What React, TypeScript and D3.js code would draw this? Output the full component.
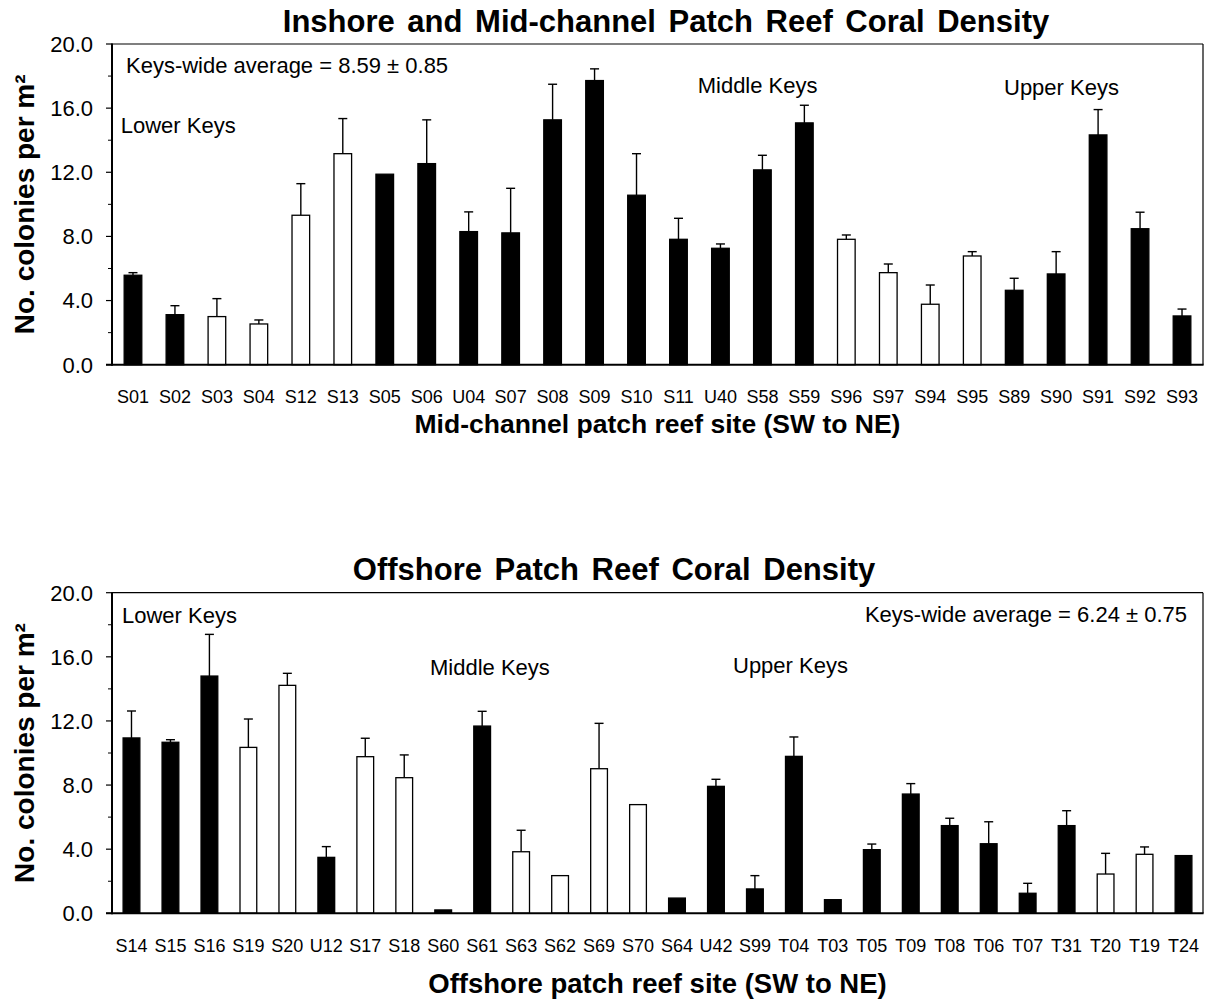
import React from 'react';
import * as d3 from 'd3';

// ---------- Data: inshore / mid-channel panel ----------
const midSites = ['S01','S02','S03','S04','S12','S13','S05','S06','U04','S07','S08','S09','S10','S11','U40','S58','S59','S96','S97','S94','S95','S89','S90','S91','S92','S93'];
const midValues = [5.58,3.12,3.0,2.54,9.32,13.16,11.88,12.54,8.3,8.22,15.27,17.72,10.57,7.82,7.26,12.15,15.08,7.82,5.74,3.77,6.78,4.64,5.66,14.33,8.48,3.04];
const midErrors = [0.16,0.56,1.12,0.25,1.97,2.19,0,2.73,1.23,2.78,2.22,0.73,2.59,1.31,0.27,0.91,1.1,0.27,0.54,1.2,0.27,0.75,1.39,1.58,1.03,0.43];
const midFilled = [true,true,false,false,false,false,true,true,true,true,true,true,true,true,true,true,true,false,false,false,false,true,true,true,true,true];

// ---------- Data: offshore panel ----------
const offSites = ['S14','S15','S16','S19','S20','U12','S17','S18','S60','S61','S63','S62','S69','S70','S64','U42','S99','T04','T03','T05','T09','T08','T06','T07','T31','T20','T19','T24'];
const offValues = [10.94,10.67,14.8,10.35,14.22,3.49,9.77,8.46,0.21,11.68,3.84,2.35,9.02,6.78,0.95,7.92,1.52,9.79,0.85,3.97,7.44,5.47,4.34,1.25,5.47,2.45,3.68,3.6];
const offErrors = [1.68,0.16,2.6,1.77,0.75,0.67,1.15,1.42,0,0.92,1.34,0,2.83,0,0,0.44,0.83,1.21,0,0.35,0.65,0.46,1.37,0.62,0.93,1.29,0.46,0];
const offFilled = [true,true,true,false,false,true,false,false,true,true,false,false,false,false,true,true,true,true,true,true,true,true,true,true,true,false,false,true];

const yTickValues = [0, 4, 8, 12, 16, 20];
const yMinorValues = [2, 6, 10, 14, 18];

const midTitle = 'Inshore and Mid-channel Patch Reef Coral Density';
const offTitle = 'Offshore Patch Reef Coral Density';
const midXTitle = 'Mid-channel patch reef site (SW to NE)';
const offXTitle = 'Offshore patch reef site (SW to NE)';
const yTitle = 'No. colonies per m²';

const FONT = '"Liberation Sans", Arial, Helvetica, sans-serif';

type Note = { text: string; x: number; y: number; anchor?: string };

type PanelProps = {
  sites: string[]; values: number[]; errors: number[]; filled: boolean[];
  top: number; bottom: number; pad: number;
  title: string; titleX: number; titleY: number;
  xTitle: string; xTitleY: number; xTitleSize: number; tickY: number;
  notes: Note[];
};

function Panel(p: PanelProps) {
  const left = 112, right = 1203;
  const x = d3.scaleBand<string>().domain(p.sites).range([left, right]).paddingInner(p.pad).paddingOuter(p.pad / 2);
  const y = d3.scaleLinear().domain([0, 20]).range([p.bottom, p.top]);
  const bw = x.bandwidth();
  const capW = 9;
  return (
    <g>
      <text x={p.titleX} y={p.titleY} textAnchor="middle" fontFamily={FONT} fontWeight="bold" fontSize={31} style={{ wordSpacing: '4px' }}>{p.title}</text>
      {/* frame */}
      <line x1={left} x2={right} y1={p.top} y2={p.top} stroke="#000" strokeWidth={1.2} />
      <line x1={right} x2={right} y1={p.top} y2={p.bottom} stroke="#000" strokeWidth={1.2} />
      {/* bars */}
      {p.sites.map((s, i) => {
        const v = p.values[i];
        const e = p.errors[i];
        const cx = (x(s) as number) + bw / 2;
        return (
          <g key={s}>
            {e > 0 && (
              <g stroke="#000" strokeWidth={1.4}>
                <line x1={cx} x2={cx} y1={y(v)} y2={y(v + e)} />
                <line x1={cx - capW / 2} x2={cx + capW / 2} y1={y(v + e)} y2={y(v + e)} />
              </g>
            )}
            <rect x={x(s)} y={y(v)} width={bw} height={p.bottom - y(v)}
              fill={p.filled[i] ? '#000' : '#fff'} stroke="#000" strokeWidth={1.3} />
          </g>
        );
      })}
      {/* axes */}
      <line x1={left} x2={left} y1={p.top - 0.5} y2={p.bottom + 1} stroke="#000" strokeWidth={2} />
      <line x1={left - 6} x2={right + 0.6} y1={p.bottom} y2={p.bottom} stroke="#000" strokeWidth={2} />
      {yTickValues.map(t => (
        <g key={t}>
          <line x1={left - 6} x2={left} y1={y(t)} y2={y(t)} stroke="#000" strokeWidth={1.2} />
          <text x={93} y={y(t)} dy="0.36em" textAnchor="end" fontFamily={FONT} fontSize={22}>{t.toFixed(1)}</text>
        </g>
      ))}
      {yMinorValues.map(t => (
        <line key={t} x1={left - 4} x2={left} y1={y(t)} y2={y(t)} stroke="#000" strokeWidth={1} />
      ))}
      {p.sites.map(s => (
        <text key={s} x={(x(s) as number) + bw / 2} y={p.tickY} textAnchor="middle" fontFamily={FONT} fontSize={18}>{s}</text>
      ))}
      <text x={(left + right) / 2} y={p.xTitleY} textAnchor="middle" fontFamily={FONT} fontWeight="bold" fontSize={p.xTitleSize}>{p.xTitle}</text>
      <text transform={`translate(34,${(p.top + p.bottom) / 2}) rotate(-90)`} textAnchor="middle" fontFamily={FONT} fontWeight="bold" fontSize={28}>{yTitle}</text>
      {p.notes.map((n, i) => (
        <text key={i} x={n.x} y={n.y} textAnchor={n.anchor || 'start'} fontFamily={FONT} fontSize={22}>{n.text}</text>
      ))}
    </g>
  );
}

export default function App() {
  return (
    <svg width={1208} height={1002} style={{ position: 'absolute', left: 0, top: 0, background: '#fff' }}>
      <rect width={1208} height={1002} fill="#fff" />
      <Panel sites={midSites} values={midValues} errors={midErrors} filled={midFilled}
        top={44} bottom={364.7} pad={0.58}
        title={midTitle} titleX={666} titleY={31.5}
        xTitle={midXTitle} xTitleY={433} xTitleSize={26.5} tickY={402.7}
        notes={[
          { text: 'Keys-wide average = 8.59 ± 0.85', x: 126, y: 72.7 },
          { text: 'Lower Keys', x: 120.7, y: 133.3 },
          { text: 'Middle Keys', x: 697.7, y: 93.3 },
          { text: 'Upper Keys', x: 1004, y: 95 },
        ]} />
      <Panel sites={offSites} values={offValues} errors={offErrors} filled={offFilled}
        top={592.7} bottom={913.3} pad={0.57}
        title={offTitle} titleX={614} titleY={580}
        xTitle={offXTitle} xTitleY={993} xTitleSize={27.5} tickY={952.3}
        notes={[
          { text: 'Lower Keys', x: 122, y: 623.3 },
          { text: 'Middle Keys', x: 430, y: 675 },
          { text: 'Upper Keys', x: 733, y: 672.7 },
          { text: 'Keys-wide average = 6.24 ± 0.75', x: 1187, y: 621.7, anchor: 'end' },
        ]} />
    </svg>
  );
}
